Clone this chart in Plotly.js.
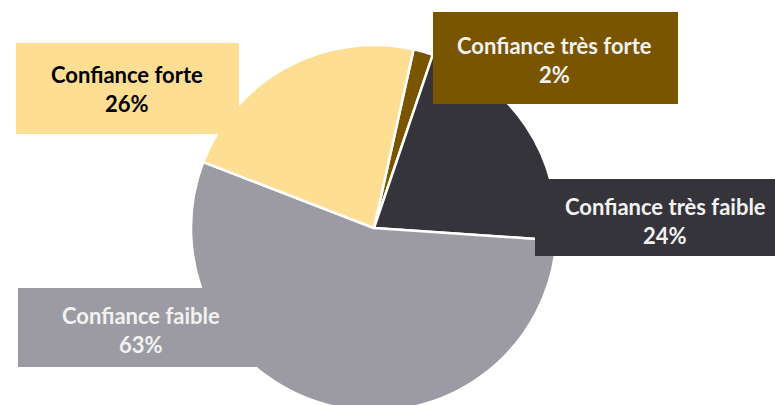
<!DOCTYPE html>
<html>
<head>
<meta charset="utf-8">
<script src="https://cdn.plot.ly/plotly-3.0.1.min.js"></script>
<style>
html,body{margin:0;padding:0;overflow:hidden;background:#fff;width:775px;height:405px;}
#chart{width:775px;height:440px;}
</style>
</head>
<body>
<div id="chart"></div>
<script>
// Data
const labels = ['Confiance très forte', 'Confiance très faible', 'Confiance faible', 'Confiance forte'];
const values = [2, 24, 63, 26];
const colors = ['#7A5500', '#35343A', '#9C9BA4', '#FDDE93'];
const textColors = ['#F2F2F2', '#F2F2F2', '#F2F2F2', '#000000'];

// Layout helpers (pixel -> paper)
const W = 775, H = 440;
const px = x => x / W;
const py = y => 1 - y / H;

// Label boxes in pixels: [x0, y0, x1, y1, textX, line1Y, line2Y]
const boxes = [
  [433, 12, 678, 104, 554, 45, 74],
  [535, 179, 775, 256, 665, 206, 235],
  [18, 288, 264, 367, 141, 315, 344],
  [16, 43, 239, 134, 127, 75, 104]
];

const shapes = [];
const annotations = [];
labels.forEach((lab, i) => {
  const b = boxes[i];
  shapes.push({type: 'rect', xref: 'paper', yref: 'paper', layer: 'above',
    x0: px(b[0]), x1: px(b[2]), y0: py(b[3]), y1: py(b[1]),
    fillcolor: colors[i], line: {width: 0}});
  const f = {family: 'Lato, Carlito, Calibri, sans-serif', size: 22, color: textColors[i], weight: 'bold'};
  annotations.push({xref: 'paper', yref: 'paper', x: px(b[4]), y: py(b[5]), xanchor: 'center', yanchor: 'middle',
    text: lab, showarrow: false, font: f});
  annotations.push({xref: 'paper', yref: 'paper', x: px(b[4]), y: py(b[6]), xanchor: 'center', yanchor: 'middle',
    text: values[i] + '%', showarrow: false, font: f});
});

const trace = {
  type: 'pie',
  labels: labels,
  values: values,
  sort: false,
  direction: 'clockwise',
  rotation: 12.5,
  marker: {colors: colors, line: {color: '#FFFFFF', width: 2.5}},
  textinfo: 'none',
  hoverinfo: 'label+value',
  domain: {x: [px(191), px(557)], y: [py(411), py(45)]},
  showlegend: false
};

const layout = {
  width: W, height: H,
  margin: {l: 0, r: 0, t: 0, b: 0, pad: 0},
  paper_bgcolor: '#FFFFFF',
  showlegend: false,
  shapes: shapes,
  annotations: annotations
};

Plotly.newPlot('chart', [trace], layout, {displayModeBar: false, staticPlot: true});
</script>
</body>
</html>
